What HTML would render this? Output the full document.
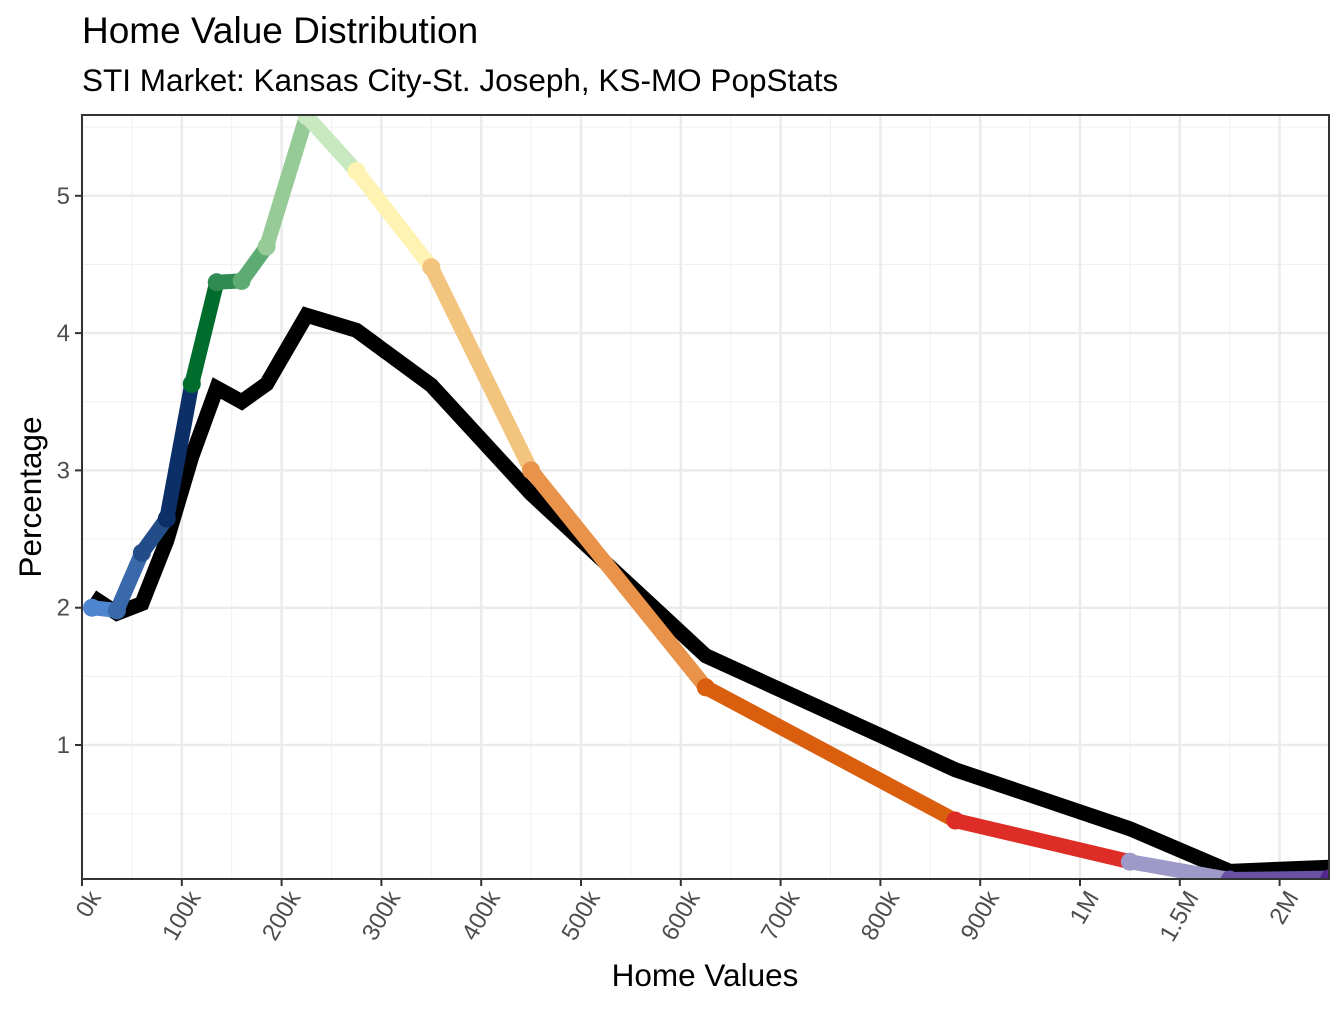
<!DOCTYPE html>
<html><head><meta charset="utf-8"><style>
body{margin:0;background:#fff;font-family:"Liberation Sans",Arial,sans-serif}
</style></head><body>
<svg id="chart" width="1344" height="1008" xmlns="http://www.w3.org/2000/svg">
<text x="82" y="43" font-size="37" fill="#000">Home Value Distribution</text>
<text x="82" y="91" font-size="31.5" fill="#000">STI Market: Kansas City-St. Joseph, KS-MO PopStats</text>
<g id="grid"></g>
<g id="series"></g>
<rect x="82" y="115" width="1247" height="764" fill="none" stroke="#333" stroke-width="2"/>
<g id="axes"></g>
<text x="705" y="986" font-size="31.5" text-anchor="middle" fill="#000">Home Values</text>
<text transform="translate(41,497) rotate(-90)" font-size="31.5" text-anchor="middle" fill="#000">Percentage</text>
</svg>
<script>
const xValues=[10,35,60,85,110,135,160,185,225,275,350,450,625,875,1250,1750,2250];
const areaValues=[2.0,1.98,2.4,2.65,3.63,4.37,4.38,4.63,5.58,5.18,4.48,3.0,1.42,0.45,0.15,0.02,0.03];
const marketValues=[2.08,1.96,2.03,2.49,3.1,3.6,3.5,3.63,4.13,4.02,3.62,2.83,1.65,0.82,0.39,0.08,0.11];
const segColors=["#4f84cf","#3a69ab","#234d88","#0b2f66","#006d2c","#2f8b52","#5fab74","#96cb97","#c8e8c0","#fff3b3","#f3c47e","#e8924a","#d95f0e","#de2d26","#9e9ac8","#6a51a3","#54278f"];
const xTickVals=[0,100,200,300,400,500,600,700,800,900,1000,1500,2000];
const xTickLabels=["0k","100k","200k","300k","400k","500k","600k","700k","800k","900k","1M","1.5M","2M"];
const yTicks=[1,2,3,4,5];
const NS="http://www.w3.org/2000/svg";
const L=82,R=1329,T=115,B=879,STEP=99.8;
function xs(v){
  for(let i=0;i<xTickVals.length-1;i++){
    if(v<=xTickVals[i+1]) return L+STEP*(i+(v-xTickVals[i])/(xTickVals[i+1]-xTickVals[i]));
  }
  const n=xTickVals.length-1;return L+STEP*(n+(v-xTickVals[n])/500);
}
function ys(v){return 745-(v-1)*137.3;}
function mk(tag,attrs,parent){const e=document.createElementNS(NS,tag);for(const k in attrs)e.setAttribute(k,attrs[k]);parent.appendChild(e);return e;}
const grid=document.getElementById('grid'),series=document.getElementById('series'),axes=document.getElementById('axes');
for(let i=0;i<xTickVals.length;i++){const x=L+STEP*(i+0.5);if(x<R){const g=mk('line',{x1:x,x2:x,y1:T,y2:B,stroke:'#f0f0f0','stroke-width':1},grid);}}
for(let v=0.5;v<5.6;v+=1){const y=ys(v);const g=mk('line',{x1:L,x2:R,y1:y,y2:y,stroke:'#f0f0f0','stroke-width':1},grid);}
xTickVals.forEach((v,i)=>{const x=xs(v);const g=mk('line',{x1:x,x2:x,y1:T,y2:B,stroke:'#ebebeb','stroke-width':2.5},grid);
  const t=mk('line',{x1:x,x2:x,y1:B,y2:B+7,stroke:'#333','stroke-width':2},axes);
  const lb=mk('text',{transform:`translate(${x+4},${B+9}) rotate(-60)`,'text-anchor':'end',dy:'0.75em','font-size':24,fill:'#4d4d4d'},axes);lb.textContent=xTickLabels[i];});
yTicks.forEach(v=>{const y=ys(v);const g=mk('line',{x1:L,x2:R,y1:y,y2:y,stroke:'#ebebeb','stroke-width':2.5},grid);
  const t=mk('line',{x1:L-7,x2:L,y1:y,y2:y,stroke:'#333','stroke-width':2},axes);
  const lb=mk('text',{x:L-12,y:y+8,'text-anchor':'end','font-size':24,fill:'#4d4d4d'},axes);lb.textContent=v;});
const cp=mk('clipPath',{id:'clip'},series);
mk('rect',{x:L,y:T,width:R-L,height:B-T},cp);
const cg=mk('g',{'clip-path':'url(#clip)'},series);
const mp=mk('polyline',{points:xValues.map((v,i)=>xs(v)+','+ys(marketValues[i])).join(' '),fill:'none',stroke:'#000','stroke-width':15,'stroke-linejoin':'miter','stroke-linecap':'butt'},cg);

for(let i=0;i<xValues.length-1;i++){const s=mk('line',{x1:xs(xValues[i]),y1:ys(areaValues[i]),x2:xs(xValues[i+1]),y2:ys(areaValues[i+1]),stroke:segColors[i],'stroke-width':15,'stroke-linecap':'round'},cg);}
for(let i=0;i<xValues.length;i++){const c=mk('circle',{cx:xs(xValues[i]),cy:ys(areaValues[i]),r:9,fill:segColors[i]},cg);}
</script>
</body></html>
